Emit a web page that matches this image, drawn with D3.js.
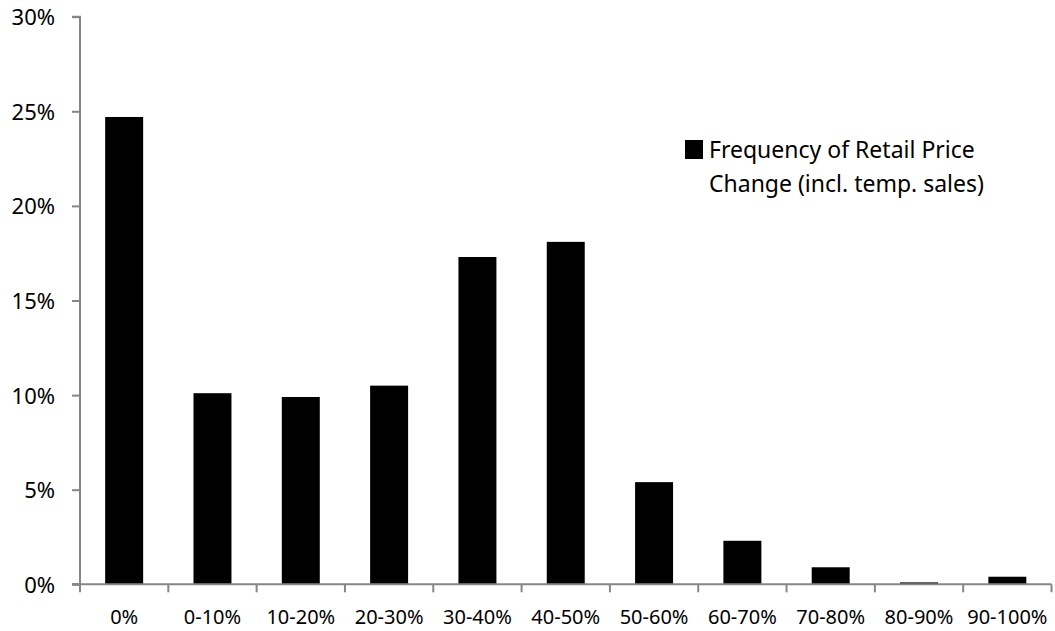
<!DOCTYPE html>
<html>
<head>
<meta charset="utf-8">
<script src="https://cdn.jsdelivr.net/npm/d3@7"></script>
<style>
  html, body { margin: 0; padding: 0; background: #fff; }
  svg text { font-family: "Noto Sans", sans-serif; fill: #000; }
</style>
</head>
<body>
<svg id="chart" width="1055" height="631"></svg>
<script>
// Size of retail price changes (share of all changes, %)
const categories = ["0%", "0-10%", "10-20%", "20-30%", "30-40%", "40-50%",
                    "50-60%", "60-70%", "70-80%", "80-90%", "90-100%"];
const frequency = [24.7, 10.1, 9.9, 10.5, 17.3, 18.1, 5.4, 2.3, 0.9, 0.1, 0.4];
const yTicks = [0, 5, 10, 15, 20, 25, 30];
const seriesName = ["Frequency of Retail Price", "Change (incl. temp. sales)"];

const svg = d3.select("#chart");
const plotLeft = 80, plotRight = 1051.5, plotTop = 16.7, plotBottom = 584.3;
const axisColor = "#868686";

const x = d3.scaleBand()
  .domain(categories)
  .range([plotLeft, plotRight])
  .paddingInner(0.57)
  .paddingOuter(0.285);

const y = d3.scaleLinear().domain([0, 30]).range([plotBottom, plotTop]);

// Bars
svg.append("g")
  .selectAll("rect")
  .data(frequency)
  .join("rect")
  .attr("x", (d, i) => x(categories[i]))
  .attr("width", x.bandwidth())
  .attr("y", d => y(d))
  .attr("height", d => y(0) - y(d))
  .attr("fill", "#000");

// Y axis
const yAxis = svg.append("g")
  .attr("transform", `translate(${plotLeft},0)`)
  .call(d3.axisLeft(y).tickValues(yTicks).tickSize(8).tickPadding(17)
        .tickFormat(d => d + "%"));
yAxis.select(".domain").attr("stroke", axisColor).attr("stroke-width", 2)
  .attr("d", `M-8,${plotTop}H0V${plotBottom}H-8`);
yAxis.selectAll(".tick line").attr("stroke", axisColor).attr("stroke-width", 2);
yAxis.selectAll(".tick text")
  .attr("font-size", 22).attr("dy", "0.36em")
  .style("font-family", "'Noto Sans', sans-serif").attr("fill", "#000");

// X axis: ticks sit on category boundaries
const step = x.step();
const xAxis = svg.append("g");
xAxis.append("line")
  .attr("x1", plotLeft - 8).attr("x2", plotRight)
  .attr("y1", plotBottom).attr("y2", plotBottom)
  .attr("stroke", axisColor).attr("stroke-width", 2);
xAxis.selectAll("line.tk")
  .data(d3.range(categories.length + 1))
  .join("line")
  .attr("class", "tk")
  .attr("x1", i => plotLeft + i * step).attr("x2", i => plotLeft + i * step)
  .attr("y1", plotBottom).attr("y2", plotBottom + 8)
  .attr("stroke", axisColor).attr("stroke-width", 2);
xAxis.selectAll("text")
  .data(categories)
  .join("text")
  .attr("x", d => x(d) + x.bandwidth() / 2)
  .attr("y", 624)
  .attr("text-anchor", "middle")
  .attr("font-size", 20)
  .text(d => d);

// Legend
const legend = svg.append("g");
legend.append("rect")
  .attr("x", 685).attr("y", 140).attr("width", 18).attr("height", 19)
  .attr("fill", "#000");
legend.selectAll("text")
  .data(seriesName)
  .join("text")
  .attr("x", 709)
  .attr("y", (d, i) => 157.5 + i * 34.5)
  .attr("font-size", 23)
  .text(d => d);
</script>
</body>
</html>
